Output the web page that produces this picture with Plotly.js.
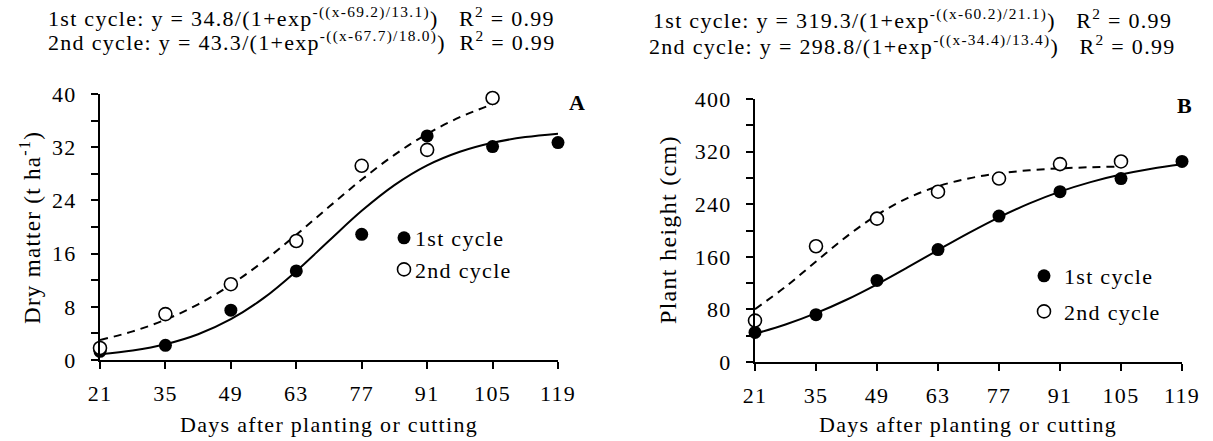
<!DOCTYPE html>
<html>
<head>
<meta charset="utf-8">
<script src="https://cdn.plot.ly/plotly-3.0.1.min.js"></script>
<style>
html,body{margin:0;padding:0;background:#fff;}
#chart{width:1213px;height:441px;}
svg text{letter-spacing:1.3px;}
</style>
</head>
<body>
<div id="chart"></div>
<script>
// ---- Data ----
const days = [21, 35, 49, 63, 77, 91, 105, 119];
const days2 = [21, 35, 49, 63, 77, 91, 105];
const dryMatter1 = [1.3, 2.2, 7.5, 13.4, 18.9, 33.7, 32.1, 32.7];
const dryMatter2 = [1.8, 6.9, 11.4, 17.9, 29.2, 31.6, 39.4];
const height1 = [45, 72, 124, 171, 222, 259, 279, 305];
const height2 = [63, 176, 218, 259, 279, 301, 305];

// fitted curves
const fitDays = [21, 28, 35, 42, 49, 56, 63, 70, 77, 84, 91, 98, 105, 112, 119];
const fitDays2 = [21, 28, 35, 42, 49, 56, 63, 70, 77, 84, 91, 98, 105];
const dmFit1 = [0.86, 1.44, 2.38, 3.88, 6.14, 9.30, 13.36, 17.93, 22.43, 26.30, 29.27, 31.32, 32.68, 33.52, 34.04];
const dmFit2 = [3.01, 4.30, 6.06, 8.37, 11.32, 14.85, 18.84, 23.03, 27.13, 30.84, 33.99, 36.51, 38.46];
const phFit1 = [43.1, 57.0, 74.3, 94.7, 118.2, 143.8, 170.2, 196.0, 220.0, 241.2, 259.1, 273.6, 285.1, 294.0, 300.8];
const phFit2 = [80.4, 114.4, 152.8, 190.7, 223.6, 249.2, 267.2, 279.2, 286.9, 291.6, 294.5, 296.2, 297.3];

const xTicks = [21, 35, 49, 63, 77, 91, 105, 119];
const seriesNames = ['1st cycle', '2nd cycle'];

const FONT = 'Liberation Serif, Times New Roman, serif';
const FS = 22;
const NB = '\u00a0';

function fitTrace(x, y, dashed, xa, ya) {
  return {x: x, y: y, mode: 'lines', type: 'scatter', xaxis: xa, yaxis: ya, showlegend: false,
    line: {color: '#000', width: 2, shape: 'spline', smoothing: 1, dash: dashed ? '8px,6px' : 'solid'},
    hoverinfo: 'skip', cliponaxis: false};
}
function ptTrace(x, y, filled, name, xa, ya, leg, grp) {
  return {x: x, y: y, mode: 'markers', type: 'scatter', xaxis: xa, yaxis: ya, name: name,
    legend: leg, legendgroup: grp, cliponaxis: false,
    marker: {size: 13, color: filled ? '#000' : '#fff', symbol: 'circle',
      line: {color: '#000', width: filled ? 0 : 1.6}}};
}

const data = [
  fitTrace(fitDays, dmFit1, false, 'x', 'y'),
  fitTrace(fitDays2, dmFit2, true, 'x', 'y'),
  ptTrace(days, dryMatter1, true, seriesNames[0], 'x', 'y', 'legend', 'a1'),
  ptTrace(days2, dryMatter2, false, seriesNames[1], 'x', 'y', 'legend', 'a2'),
  fitTrace(fitDays, phFit1, false, 'x2', 'y2'),
  fitTrace(fitDays2, phFit2, true, 'x2', 'y2'),
  ptTrace(days, height1, true, seriesNames[0], 'x2', 'y2', 'legend2', 'b1'),
  ptTrace(days2, height2, false, seriesNames[1], 'x2', 'y2', 'legend2', 'b2')
];

function xAxis(domain, anchor) {
  return {domain: domain, anchor: anchor, range: [21, 119], tickvals: xTicks, ticktext: xTicks.map(String),
    showline: true, linecolor: '#000', linewidth: 2, ticks: 'outside', ticklen: 7, tickwidth: 2, tickcolor: '#000',
    showgrid: false, zeroline: false, fixedrange: true, ticklabelstandoff: 6,
    tickfont: {family: FONT, size: FS, color: '#000'}};
}
function yAxis(domain, anchor, max, dt) {
  return {domain: domain, anchor: anchor, range: [0, max], dtick: dt, tick0: 0,
    showline: true, linecolor: '#000', linewidth: 2, ticks: 'outside', ticklen: 7, tickwidth: 2, tickcolor: '#000',
    minor: {dtick: dt / 2, tick0: 0, ticks: 'outside', ticklen: 7, tickwidth: 2, tickcolor: '#000', showgrid: false},
    showgrid: false, zeroline: false, fixedrange: true, ticklabelstandoff: 10,
    tickfont: {family: FONT, size: FS, color: '#000'}};
}

const legendBase = {font: {family: FONT, size: FS, color: '#000'}, bgcolor: 'rgba(0,0,0,0)',
  itemwidth: 30, tracegroupgap: 0, xanchor: 'left', yanchor: 'top'};

function ann(text, px, py, extra) {
  return Object.assign({text: text, x: px / 1213, y: 1 - py / 441, xref: 'paper', yref: 'paper',
    xanchor: 'center', yanchor: 'middle', showarrow: false, font: {family: FONT, size: FS, color: '#000'}}, extra || {});
}

const layout = {
  width: 1213, height: 441,
  margin: {l: 0, r: 0, t: 0, b: 0},
  paper_bgcolor: '#fff', plot_bgcolor: '#fff',
  font: {family: FONT, color: '#000'},
  xaxis: xAxis([100 / 1213, 558 / 1213], 'y'),
  yaxis: yAxis([81 / 441, 347 / 441], 'x', 40, 8),
  xaxis2: xAxis([755 / 1213, 1182 / 1213], 'y2'),
  yaxis2: yAxis([79 / 441, 342 / 441], 'x2', 400, 80),
  legend: Object.assign({}, legendBase, {x: 384 / 1213, y: (441 - 217) / 441}),
  legend2: Object.assign({}, legendBase, {x: 1024 / 1213, y: (441 - 255) / 441, tracegroupgap: 4}),
  annotations: [
    ann('1st cycle: y = 34.8/(1+exp<sup>-((x-69.2)/13.1)</sup>)' + NB + NB + NB + 'R<sup>2</sup> = 0.99', 301, 17),
    ann('2nd cycle: y = 43.3/(1+exp<sup>-((x-67.7)/18.0)</sup>)' + NB + NB + 'R<sup>2</sup> = 0.99', 301, 41),
    ann('1st cycle: y = 319.3/(1+exp<sup>-((x-60.2)/21.1)</sup>)' + NB + NB + NB + 'R<sup>2</sup> = 0.99', 912, 19),
    ann('2nd cycle: y = 298.8/(1+exp<sup>-((x-34.4)/13.4)</sup>)' + NB + NB + NB + 'R<sup>2</sup> = 0.99', 912, 45),
    ann('<b>A</b>', 577, 103),
    ann('<b>B</b>', 1185, 106),
    ann('Dry matter (t ha<sup>-1</sup>)', 30, 228, {textangle: -90, font: {family: FONT, size: 23, color: '#000'}}),
    ann('Plant height (cm)', 668, 230, {textangle: -90, font: {family: FONT, size: 24, color: '#000'}}),
    ann('Days after planting or cutting', 329, 424),
    ann('Days after planting or cutting', 968, 424)
  ]
};

function tightenLegends() {
  // pull legend labels closer to their symbols, as in the reference
  document.querySelectorAll('text.legendtext').forEach(function (t) {
    t.setAttribute('transform', 'translate(-9,0)');
  });
}

const gd = document.getElementById('chart');
Plotly.newPlot(gd, data, layout, {displayModeBar: false, staticPlot: true}).then(function () {
  tightenLegends();
  setTimeout(tightenLegends, 0);
  setTimeout(tightenLegends, 50);
});
</script>
</body>
</html>
